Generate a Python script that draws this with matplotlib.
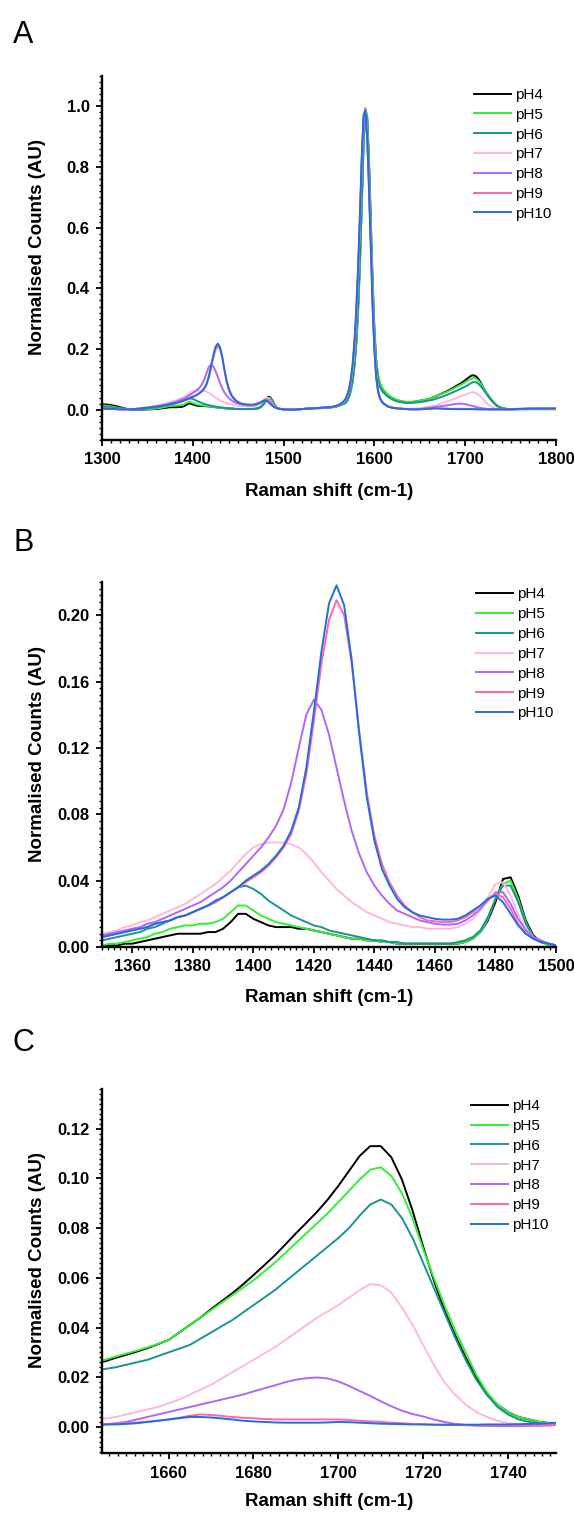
import numpy as np
import matplotlib
matplotlib.use('Agg')
import matplotlib.pyplot as plt
from matplotlib.ticker import MultipleLocator, FormatStrFormatter

plt.rcParams['font.family'] = ['Liberation Sans', 'DejaVu Sans']
plt.rcParams['font.weight'] = 'bold'

# ── Data ──────────────────────────────────────────────────────────────────────
# sample positions (cm-1): denser where the zoomed panels B and C look closely
raman_shift = np.concatenate([
    np.arange(1300, 1350, 5),      # 10
    np.arange(1350, 1501, 2.5),    # 61  (panel B range)
    np.arange(1505, 1566, 5),      # 13
    np.arange(1568, 1611, 2),      # 22  (main 1590 band)
    np.arange(1615, 1641, 5),      # 6
    np.arange(1645, 1751, 2.5),    # 43  (panel C range)
    np.arange(1760, 1801, 10),     # 5
])

ph4 = [
    0.018, 0.017, 0.015, 0.012, 0.008, 0.004, 0.001, 0.000, 0.000, 0.000,
    0.001, 0.001, 0.001, 0.002, 0.002, 0.003, 0.004, 0.005, 0.006, 0.007,
    0.008, 0.008, 0.008, 0.008, 0.009, 0.009, 0.011, 0.015, 0.020, 0.020,
    0.017, 0.015, 0.013, 0.012, 0.012, 0.012, 0.011, 0.011, 0.010, 0.009,
    0.008, 0.007, 0.006, 0.005, 0.005, 0.004, 0.004, 0.003, 0.003, 0.002,
    0.002, 0.002, 0.002, 0.002, 0.002, 0.002, 0.002, 0.002, 0.003, 0.005,
    0.009, 0.016, 0.027, 0.041, 0.042, 0.031, 0.016, 0.007, 0.003, 0.002,
    0.001,
    0.000, 0.000, 0.001, 0.002, 0.003, 0.004, 0.005, 0.005, 0.006, 0.007, 0.009, 0.012, 0.018,
    0.022, 0.030, 0.043, 0.063, 0.095, 0.145, 0.220, 0.330, 0.480, 0.670, 0.870,
    0.990, 0.965, 0.820, 0.620, 0.420, 0.260, 0.160, 0.108, 0.085, 0.072, 0.064,
    0.048, 0.038, 0.031, 0.027, 0.025, 0.025,
    0.0264, 0.0278, 0.0290, 0.0303, 0.0317, 0.0333, 0.0350, 0.0380, 0.0410, 0.0440,
    0.0474, 0.0506, 0.0538, 0.0573, 0.0611, 0.0650, 0.0690, 0.0734, 0.0779, 0.0822,
    0.0866, 0.0915, 0.0970, 0.1030, 0.1090, 0.1130, 0.1130, 0.1085, 0.0995, 0.0870,
    0.0725, 0.0590, 0.0470, 0.0370, 0.0280, 0.0200, 0.0130, 0.0090, 0.0060, 0.0040,
    0.0030, 0.0020, 0.0015,
    0.002, 0.002, 0.002, 0.002, 0.002,
]

ph5 = [
    0.014, 0.013, 0.011, 0.008, 0.005, 0.003, 0.001, 0.000, 0.000, 0.001,
    0.001, 0.002, 0.002, 0.003, 0.004, 0.005, 0.006, 0.008, 0.009, 0.011,
    0.012, 0.013, 0.013, 0.014, 0.014, 0.015, 0.017, 0.021, 0.025, 0.025,
    0.022, 0.019, 0.017, 0.015, 0.014, 0.013, 0.012, 0.011, 0.010, 0.009,
    0.008, 0.007, 0.006, 0.005, 0.005, 0.004, 0.004, 0.003, 0.003, 0.002,
    0.002, 0.002, 0.002, 0.002, 0.002, 0.002, 0.002, 0.002, 0.003, 0.005,
    0.009, 0.017, 0.029, 0.038, 0.040, 0.029, 0.015, 0.006, 0.003, 0.001,
    0.001,
    0.000, 0.000, 0.001, 0.002, 0.003, 0.004, 0.005, 0.005, 0.006, 0.007, 0.009, 0.012, 0.017,
    0.021, 0.028, 0.040, 0.059, 0.089, 0.136, 0.208, 0.315, 0.462, 0.652, 0.858,
    0.990, 0.972, 0.835, 0.640, 0.440, 0.275, 0.170, 0.114, 0.089, 0.075, 0.066,
    0.049, 0.039, 0.032, 0.028, 0.026, 0.026,
    0.0270, 0.0283, 0.0295, 0.0307, 0.0320, 0.0334, 0.0350, 0.0380, 0.0410, 0.0440,
    0.0470, 0.0500, 0.0530, 0.0560, 0.0590, 0.0625, 0.0660, 0.0700, 0.0740, 0.0780,
    0.0820, 0.0860, 0.0905, 0.0950, 0.0995, 0.1035, 0.1045, 0.1010, 0.0940, 0.0840,
    0.0715, 0.0600, 0.0490, 0.0390, 0.0300, 0.0210, 0.0140, 0.0090, 0.0060, 0.0040,
    0.0030, 0.0020, 0.0015,
    0.001, 0.001, 0.001, 0.001, 0.001,
]

ph6 = [
    0.010, 0.009, 0.008, 0.006, 0.004, 0.002, 0.001, 0.000, 0.001, 0.002,
    0.004, 0.005, 0.006, 0.007, 0.008, 0.009, 0.011, 0.012, 0.014, 0.016,
    0.018, 0.019, 0.021, 0.023, 0.025, 0.027, 0.030, 0.033, 0.036, 0.037,
    0.035, 0.032, 0.028, 0.025, 0.022, 0.019, 0.017, 0.015, 0.013, 0.012,
    0.010, 0.009, 0.008, 0.007, 0.006, 0.005, 0.004, 0.004, 0.003, 0.003,
    0.002, 0.002, 0.002, 0.002, 0.002, 0.002, 0.002, 0.003, 0.004, 0.006,
    0.010, 0.018, 0.029, 0.037, 0.037, 0.027, 0.014, 0.006, 0.003, 0.002,
    0.001,
    0.000, 0.000, 0.001, 0.002, 0.003, 0.004, 0.005, 0.005, 0.006, 0.007, 0.009, 0.012, 0.018,
    0.023, 0.031, 0.045, 0.066, 0.100, 0.152, 0.230, 0.343, 0.495, 0.685, 0.880,
    0.990, 0.958, 0.810, 0.605, 0.405, 0.248, 0.150, 0.099, 0.076, 0.063, 0.056,
    0.042, 0.033, 0.027, 0.024, 0.022, 0.022,
    0.0233, 0.0240, 0.0250, 0.0260, 0.0270, 0.0285, 0.0300, 0.0315, 0.0330, 0.0355,
    0.0380, 0.0405, 0.0430, 0.0460, 0.0490, 0.0520, 0.0550, 0.0585, 0.0620, 0.0655,
    0.0690, 0.0725, 0.0760, 0.0800, 0.0850, 0.0895, 0.0915, 0.0895, 0.0840, 0.0760,
    0.0660, 0.0560, 0.0460, 0.0360, 0.0270, 0.0190, 0.0130, 0.0080, 0.0050, 0.0030,
    0.0020, 0.0015, 0.0010,
    0.002, 0.002, 0.003, 0.003, 0.003,
]

ph7 = [
    0.004, 0.003, 0.003, 0.002, 0.001, 0.001, 0.001, 0.002, 0.004, 0.006,
    0.008, 0.009, 0.010, 0.012, 0.013, 0.015, 0.016, 0.018, 0.020, 0.022,
    0.024, 0.026, 0.029, 0.032, 0.035, 0.038, 0.042, 0.046, 0.051, 0.056,
    0.060, 0.062, 0.063, 0.063, 0.063, 0.062, 0.060, 0.056, 0.051, 0.045,
    0.040, 0.035, 0.031, 0.027, 0.024, 0.021, 0.019, 0.017, 0.015, 0.014,
    0.013, 0.012, 0.012, 0.011, 0.011, 0.011, 0.011, 0.012, 0.014, 0.017,
    0.022, 0.030, 0.038, 0.039, 0.031, 0.020, 0.011, 0.006, 0.004, 0.002,
    0.001,
    0.000, 0.000, 0.001, 0.002, 0.003, 0.004, 0.005, 0.006, 0.007, 0.008, 0.010, 0.014, 0.022,
    0.031, 0.043, 0.061, 0.090, 0.136, 0.205, 0.305, 0.440, 0.610, 0.800, 0.955,
    0.992, 0.915, 0.755, 0.560, 0.370, 0.215, 0.115, 0.065, 0.040, 0.028, 0.021,
    0.011, 0.007, 0.005, 0.004, 0.003, 0.003,
    0.0033, 0.0040, 0.0050, 0.0060, 0.0070, 0.0080, 0.0095, 0.0110, 0.0130, 0.0150,
    0.0170, 0.0195, 0.0220, 0.0245, 0.0270, 0.0295, 0.0320, 0.0350, 0.0380, 0.0410,
    0.0440, 0.0465, 0.0490, 0.0520, 0.0550, 0.0575, 0.0570, 0.0540, 0.0480, 0.0410,
    0.0330, 0.0250, 0.0180, 0.0130, 0.0090, 0.0060, 0.0040, 0.0025, 0.0015, 0.0010,
    0.0008, 0.0007, 0.0007,
    0.002, 0.003, 0.003, 0.003, 0.003,
]

ph8 = [
    0.004, 0.003, 0.003, 0.002, 0.001, 0.001, 0.001, 0.002, 0.003, 0.005,
    0.007, 0.008, 0.009, 0.010, 0.011, 0.012, 0.014, 0.015, 0.017, 0.019,
    0.021, 0.023, 0.025, 0.027, 0.030, 0.033, 0.036, 0.040, 0.045, 0.050,
    0.055, 0.060, 0.066, 0.073, 0.083, 0.099, 0.120, 0.140, 0.149, 0.143,
    0.128, 0.108, 0.088, 0.070, 0.056, 0.045, 0.037, 0.031, 0.026, 0.022,
    0.020, 0.018, 0.016, 0.015, 0.014, 0.0135, 0.0135, 0.014, 0.016, 0.019,
    0.023, 0.028, 0.033, 0.033, 0.026, 0.017, 0.010, 0.006, 0.004, 0.002,
    0.001,
    0.000, 0.000, 0.001, 0.002, 0.003, 0.004, 0.005, 0.006, 0.007, 0.008, 0.010, 0.014, 0.022,
    0.031, 0.043, 0.061, 0.090, 0.136, 0.205, 0.305, 0.440, 0.610, 0.800, 0.955,
    0.994, 0.915, 0.755, 0.560, 0.370, 0.215, 0.115, 0.065, 0.040, 0.028, 0.021,
    0.011, 0.007, 0.004, 0.003, 0.002, 0.001,
    0.0010, 0.0015, 0.0020, 0.0030, 0.0040, 0.0050, 0.0060, 0.0070, 0.0080, 0.0090,
    0.0100, 0.0110, 0.0120, 0.0130, 0.0143, 0.0155, 0.0167, 0.0180, 0.0190, 0.0196,
    0.0199, 0.0195, 0.0183, 0.0165, 0.0145, 0.0125, 0.0103, 0.0083, 0.0065, 0.0052,
    0.0042, 0.0030, 0.0020, 0.0012, 0.0008, 0.0005, 0.0004, 0.0003, 0.0003, 0.0003,
    0.0004, 0.0005, 0.0006,
    0.002, 0.003, 0.003, 0.003, 0.003,
]

ph9 = [
    0.004, 0.003, 0.003, 0.002, 0.001, 0.001, 0.001, 0.002, 0.003, 0.005,
    0.006, 0.007, 0.008, 0.009, 0.010, 0.011, 0.012, 0.014, 0.015, 0.016,
    0.018, 0.019, 0.021, 0.023, 0.025, 0.027, 0.030, 0.033, 0.036, 0.039,
    0.042, 0.045, 0.049, 0.054, 0.060, 0.068, 0.082, 0.104, 0.136, 0.171,
    0.197, 0.209, 0.200, 0.171, 0.130, 0.093, 0.067, 0.050, 0.039, 0.031,
    0.025, 0.021, 0.018, 0.016, 0.0155, 0.015, 0.015, 0.016, 0.018, 0.021,
    0.025, 0.029, 0.032, 0.030, 0.023, 0.014, 0.008, 0.005, 0.003, 0.002,
    0.001,
    0.000, 0.000, 0.001, 0.002, 0.003, 0.004, 0.005, 0.006, 0.007, 0.008, 0.010, 0.014, 0.023,
    0.032, 0.045, 0.064, 0.094, 0.142, 0.213, 0.316, 0.453, 0.623, 0.812, 0.962,
    0.990, 0.908, 0.743, 0.545, 0.355, 0.205, 0.110, 0.062, 0.039, 0.027, 0.020,
    0.010, 0.006, 0.004, 0.003, 0.002, 0.001,
    0.0010, 0.0012, 0.0015, 0.0018, 0.0020, 0.0025, 0.0030, 0.0037, 0.0045, 0.0050,
    0.0048, 0.0044, 0.0040, 0.0037, 0.0035, 0.0032, 0.0030, 0.0030, 0.0030, 0.0030,
    0.0030, 0.0030, 0.0030, 0.0028, 0.0025, 0.0022, 0.0020, 0.0017, 0.0015, 0.0012,
    0.0010, 0.0009, 0.0008, 0.0007, 0.0007, 0.0007, 0.0007, 0.0007, 0.0007, 0.0007,
    0.0007, 0.0007, 0.0007,
    0.002, 0.003, 0.003, 0.003, 0.003,
]

ph10 = [
    0.004, 0.003, 0.003, 0.002, 0.001, 0.001, 0.001, 0.002, 0.003, 0.005,
    0.006, 0.007, 0.008, 0.009, 0.010, 0.011, 0.012, 0.014, 0.015, 0.016,
    0.018, 0.019, 0.021, 0.023, 0.025, 0.028, 0.030, 0.033, 0.036, 0.040,
    0.043, 0.046, 0.050, 0.055, 0.061, 0.070, 0.084, 0.108, 0.142, 0.178,
    0.207, 0.218, 0.206, 0.173, 0.128, 0.090, 0.064, 0.047, 0.037, 0.029,
    0.024, 0.021, 0.019, 0.018, 0.017, 0.0165, 0.0165, 0.017, 0.019, 0.022,
    0.025, 0.029, 0.031, 0.027, 0.020, 0.013, 0.008, 0.005, 0.003, 0.002,
    0.001,
    0.000, 0.000, 0.001, 0.002, 0.003, 0.004, 0.005, 0.006, 0.007, 0.008, 0.010, 0.015, 0.024,
    0.035, 0.048, 0.068, 0.100, 0.150, 0.225, 0.330, 0.470, 0.640, 0.830, 0.970,
    0.985, 0.900, 0.730, 0.530, 0.340, 0.195, 0.105, 0.060, 0.038, 0.027, 0.020,
    0.010, 0.006, 0.004, 0.003, 0.002, 0.001,
    0.0010, 0.0010, 0.0012, 0.0015, 0.0020, 0.0025, 0.0030, 0.0035, 0.0040, 0.0040,
    0.0038, 0.0034, 0.0030, 0.0025, 0.0022, 0.0020, 0.0018, 0.0017, 0.0017, 0.0017,
    0.0017, 0.0018, 0.0020, 0.0019, 0.0017, 0.0015, 0.0013, 0.0012, 0.0011, 0.0010,
    0.0010, 0.0009, 0.0009, 0.0009, 0.0009, 0.0009, 0.0010, 0.0010, 0.0010, 0.0011,
    0.0012, 0.0013, 0.0015,
    0.003, 0.004, 0.004, 0.004, 0.004,
]

series = [ph4, ph5, ph6, ph7, ph8, ph9, ph10]
labels = ['pH4', 'pH5', 'pH6', 'pH7', 'pH8', 'pH9', 'pH10']
colors = ['#000000', '#33ee33', '#1b9491', '#ffb7dc', '#b066fa', '#ff66aa', '#1f6fe0']

# ── Figure ────────────────────────────────────────────────────────────────────
W, H = 574, 1514
fig = plt.figure(figsize=(W / 100, H / 100), dpi=100)

def px_axes(left, top, right, bottom):
    return fig.add_axes([left / W, 1 - bottom / H, (right - left) / W, (bottom - top) / H])

panels = [
    # letter, (l, t, r, b) px, xlim, ylim, x major/minor, y major/minor, y format,
    # legend anchor, x-label y, letter top
    ('A', (102, 76, 556, 440), (1300, 1800), (-0.1, 1.1), 100, 10, 0.2, 0.02, '%.1f', (0.820, 0.967), -0.142, 20),
    ('B', (102, 582, 556, 947), (1350, 1500), (0, 0.22), 20, 2, 0.04, 0.004, '%.2f', (0.824, 0.985), -0.137, 528),
    ('C', (102, 1089, 556, 1453), (1644.3, 1751.3), (-0.0105, 0.136), 20, 2, 0.02, 0.002, '%.2f', (0.813, 0.972), -0.133, 1028),
]

for letter, box, xlim, ylim, xmaj, xmin, ymaj, ymin, yfmt, leg_xy, xlab_y, letter_top in panels:
    ax = px_axes(*box)
    for y, lab, col in zip(series, labels, colors):
        ax.plot(raman_shift, y, color=col, lw=1.4, label=lab)

    ax.set_xlim(*xlim)
    ax.set_ylim(*ylim)
    ax.xaxis.set_major_locator(MultipleLocator(xmaj))
    ax.xaxis.set_minor_locator(MultipleLocator(xmin))
    ax.yaxis.set_major_locator(MultipleLocator(ymaj))
    ax.yaxis.set_minor_locator(MultipleLocator(ymin))
    ax.yaxis.set_major_formatter(FormatStrFormatter(yfmt))

    for side in ('top', 'right'):
        ax.spines[side].set_visible(False)
    for side in ('left', 'bottom'):
        ax.spines[side].set_linewidth(1.7)
    ax.tick_params(which='major', direction='out', length=4, width=1.3, labelsize=12, pad=5)
    ax.tick_params(which='minor', direction='out', length=2.5, width=1.0)

    ax.set_xlabel('Raman shift (cm-1)', fontsize=13.5, fontweight='bold')
    ax.xaxis.label.set_va('center')
    ax.xaxis.set_label_coords(0.5, xlab_y)
    ax.set_ylabel('Normalised Counts (AU)', fontsize=13.5, fontweight='bold')
    ax.yaxis.label.set_va('center')
    ax.yaxis.set_label_coords(-0.141, 0.53)

    ax.legend(loc='upper left', bbox_to_anchor=leg_xy, frameon=False,
              prop={'size': 11, 'weight': 'normal'}, handlelength=2.4,
              handletextpad=0.25, labelspacing=0.38, borderpad=0, borderaxespad=0)

    fig.text(13 / W, 1 - letter_top / H, letter, fontsize=22, fontweight='normal',
             ha='left', va='top')

fig.savefig('out.png', dpi=100)
